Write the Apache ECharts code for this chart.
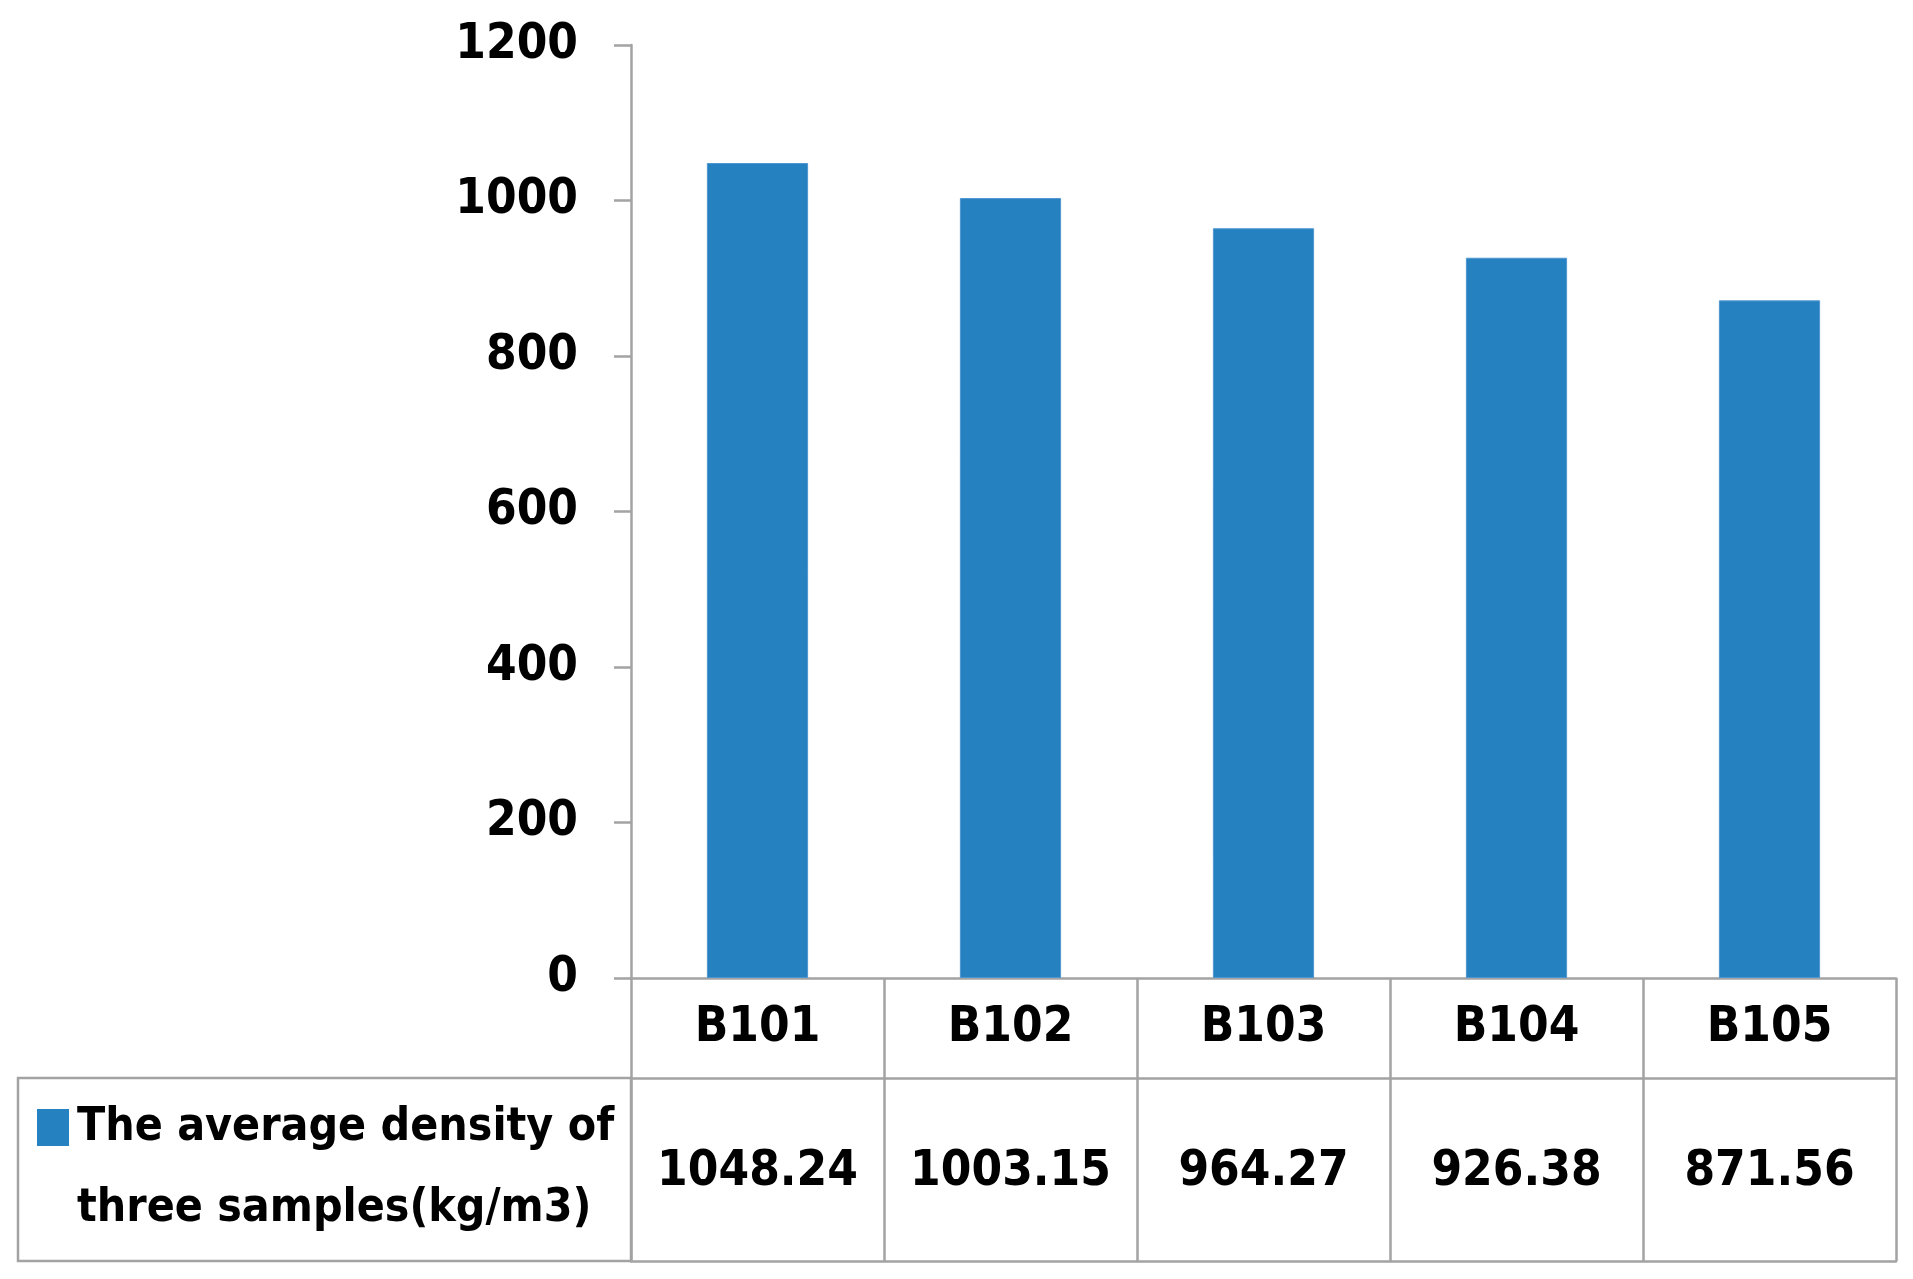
<!DOCTYPE html>
<html>
<head>
<meta charset="utf-8">
<script src="https://cdn.jsdelivr.net/npm/echarts@6/dist/echarts.min.js"></script>
<style>
html,body{margin:0;padding:0;background:#fff;}
#chart{width:1913px;height:1279px;}
</style>
</head>
<body>
<div id="chart"></div>
<script>
// ---- data ----
const categories = ['B101', 'B102', 'B103', 'B104', 'B105'];
const densities = [1048.24, 1003.15, 964.27, 926.38, 871.56];
const legendLines = ['The average density of', 'three samples(kg/m3)'];
const seriesName = legendLines.join(' ');
const yMin = 0, yMax = 1200, yStep = 200;

// ---- style ----
const FONT = "'Liberation Sans Narrow', 'DejaVu Sans Condensed', 'Liberation Sans', sans-serif";
const GRAY = '#A3A3A3';
const BLUE = '#2681C1';
const G = { left: 631, right: 17, top: 45, bottom: 301 };
const ROW1 = 100, ROW2 = 183;
const FS = 49;

const chart = echarts.init(document.getElementById('chart'), null, { renderer: 'canvas' });

const labelBase = { fontSize: FS, fontWeight: 'bold', fontFamily: FONT, color: '#000' };

const option = {
  backgroundColor: '#fff',
  animation: false,
  grid: { left: G.left, right: G.right, top: G.top, bottom: G.bottom, containLabel: false },
  xAxis: [
    {
      type: 'category', data: categories, position: 'bottom',
      axisLine: { show: true, lineStyle: { color: GRAY, width: 2.5 } },
      axisTick: { show: true, interval: 0, length: ROW1 + ROW2, lineStyle: { color: GRAY, width: 2.5 } },
      axisLabel: Object.assign({ interval: 0, margin: 50, verticalAlign: 'middle' }, labelBase)
    },
    {
      type: 'category', data: categories, position: 'bottom', offset: ROW1,
      axisLine: { show: true, lineStyle: { color: GRAY, width: 2.5 } },
      axisTick: { show: false },
      axisLabel: Object.assign({
        interval: 0, margin: 94, verticalAlign: 'middle',
        formatter: (v, i) => densities[i].toFixed(2)
      }, labelBase)
    },
    {
      type: 'category', data: categories, position: 'bottom', offset: ROW1 + ROW2,
      axisLine: { show: true, lineStyle: { color: GRAY, width: 2.5 } },
      axisTick: { show: false }, axisLabel: { show: false }
    }
  ],
  yAxis: {
    type: 'value', min: yMin, max: yMax, interval: yStep,
    axisLine: { show: true, lineStyle: { color: GRAY, width: 2.5 } },
    axisTick: { show: true, length: 17, lineStyle: { color: GRAY, width: 2.5 } },
    splitLine: { show: false },
    axisLabel: Object.assign({ margin: 53, formatter: v => String(v) }, labelBase)
  },
  series: [{
    name: seriesName, type: 'bar', data: densities, xAxisIndex: 0,
    barWidth: '40%',
    itemStyle: { color: BLUE, borderColor: '#4F95D0', borderWidth: 1 }
  }]
};
chart.setOption(option);

// legend cell of the data table, placed from the chart's own scales
const y0 = chart.convertToPixel({ yAxisIndex: 0 }, yMin);
const rowTop = y0 + ROW1;
const legendFont = 'bold 46px ' + FONT;
chart.setOption({
  graphic: [
    { type: 'rect', shape: { x: 18, y: rowTop, width: G.left - 18, height: ROW2 },
      style: { fill: 'none', stroke: GRAY, lineWidth: 2.5 }, silent: true },
    { type: 'rect', shape: { x: 37, y: rowTop + 31, width: 32, height: 37 },
      style: { fill: BLUE }, silent: true },
    { type: 'text', x: 77, y: rowTop + 50,
      style: { text: legendLines[0], font: legendFont, fill: '#000', verticalAlign: 'middle', align: 'left' }, silent: true },
    { type: 'text', x: 77, y: rowTop + 131,
      style: { text: legendLines[1], font: legendFont, fill: '#000', verticalAlign: 'middle', align: 'left' }, silent: true }
  ]
});
</script>
</body>
</html>
